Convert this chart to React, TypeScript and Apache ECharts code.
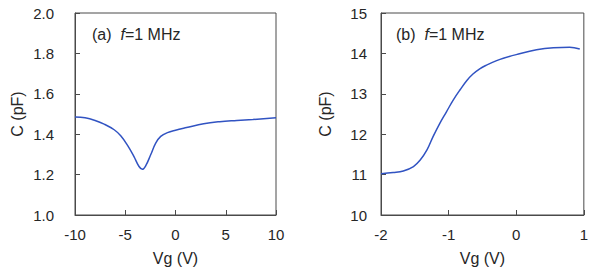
import React, { useEffect, useRef } from "react";
import * as echarts from "echarts";

// Panel (a): C–Vg sweep over ±10 V
const vgA = [-10, -9, -8, -7.1, -6.1, -5.45, -4.8, -4.13, -3.63, -3.3, -2.97, -2.47, -1.97, -1.47, -0.8, 0, 1.1, 2.8, 4.4, 6.1, 7.7, 10];
const capA = [1.485, 1.481, 1.468, 1.45, 1.422, 1.392, 1.347, 1.289, 1.24, 1.226, 1.243, 1.298, 1.356, 1.389, 1.408, 1.42, 1.433, 1.452, 1.462, 1.468, 1.473, 1.481];

// Panel (b): C–Vg sweep from -2 V to 1 V
const vgB = [-2, -1.82, -1.67, -1.52, -1.42, -1.32, -1.23, -1.13, -1.03, -0.93, -0.83, -0.73, -0.64, -0.54, -0.44, -0.29, -0.19, 0, 0.3, 0.55, 0.79, 0.94];
const capB = [11.02, 11.05, 11.09, 11.2, 11.36, 11.61, 11.94, 12.27, 12.56, 12.85, 13.1, 13.33, 13.49, 13.62, 13.71, 13.82, 13.88, 13.97, 14.09, 14.14, 14.15, 14.11];

const xTicksA = { min: -10, max: 10, interval: 5 };
const yTicksA = { min: 1.0, max: 2.0, interval: 0.2 };
const xTicksB = { min: -2, max: 1, interval: 1 };
const yTicksB = { min: 10, max: 15, interval: 1 };

const FONT = "Liberation Sans, Arial, sans-serif";
const TEXT = "#262626";
const LINE = "#3153c2";
const BORDER = "#4a4a4a";

function pairs(xs: number[], ys: number[]) {
  return xs.map((x, i) => [x, ys[i]]);
}

export default function App() {
  const ref = useRef<HTMLDivElement>(null);

  useEffect(() => {
    if (!ref.current) return;
    const chart = echarts.init(ref.current, undefined, { renderer: "svg" });

    const axisCommon = {
      axisLine: { show: true, onZero: false, lineStyle: { color: BORDER, width: 1 } },
      axisTick: { show: true, inside: true, length: 5, lineStyle: { color: BORDER } },
      splitLine: { show: false },
      nameLocation: "middle" as const,
      nameTextStyle: { fontFamily: FONT, fontSize: 16, color: TEXT },
    };
    const labelStyle = { fontFamily: FONT, fontSize: 15, color: TEXT };

    const titleStyle = {
      fontFamily: FONT,
      fontSize: 16,
      fontWeight: "normal" as const,
      color: TEXT,
      rich: {
        i: { fontFamily: FONT, fontSize: 16, fontStyle: "italic" as const, color: TEXT },
      },
    };

    chart.setOption({
      animation: false,
      title: [
        { text: "(a)  {i|f}=1 MHz", left: 92, top: 26, padding: 0, textStyle: titleStyle },
        { text: "(b)  {i|f}=1 MHz", left: 396, top: 26, padding: 0, textStyle: titleStyle },
      ],
      grid: [
        { left: 75, top: 13, width: 201, height: 202, show: true, borderColor: BORDER, borderWidth: 1, backgroundColor: "transparent" },
        { left: 381, top: 13, width: 203, height: 202, show: true, borderColor: BORDER, borderWidth: 1, backgroundColor: "transparent" },
      ],
      xAxis: [
        {
          ...axisCommon,
          type: "value",
          gridIndex: 0,
          ...xTicksA,
          name: "Vg (V)",
          nameGap: 35,
          axisLabel: { ...labelStyle, margin: 12 },
        },
        {
          ...axisCommon,
          type: "value",
          gridIndex: 1,
          ...xTicksB,
          name: "Vg (V)",
          nameGap: 35,
          axisLabel: { ...labelStyle, margin: 12 },
        },
      ],
      yAxis: [
        {
          ...axisCommon,
          type: "value",
          gridIndex: 0,
          ...yTicksA,
          name: "C (pF)",
          nameGap: 50,
          axisLabel: { ...labelStyle, margin: 21, formatter: (v: number) => v.toFixed(1) },
        },
        {
          ...axisCommon,
          type: "value",
          gridIndex: 1,
          ...yTicksB,
          name: "C (pF)",
          nameGap: 48,
          axisLabel: { ...labelStyle, margin: 14 },
        },
      ],
      series: [
        {
          type: "line",
          xAxisIndex: 0,
          yAxisIndex: 0,
          data: pairs(vgA, capA),
          smooth: 0.4,
          showSymbol: false,
          lineStyle: { color: LINE, width: 1.5 },
        },
        {
          type: "line",
          xAxisIndex: 1,
          yAxisIndex: 1,
          data: pairs(vgB, capB),
          smooth: 0.4,
          showSymbol: false,
          lineStyle: { color: LINE, width: 1.5 },
        },
      ],
    });

    return () => chart.dispose();
  }, []);

  return <div ref={ref} style={{ width: 591, height: 275, position: "absolute", left: 0, top: 0 }} />;
}
